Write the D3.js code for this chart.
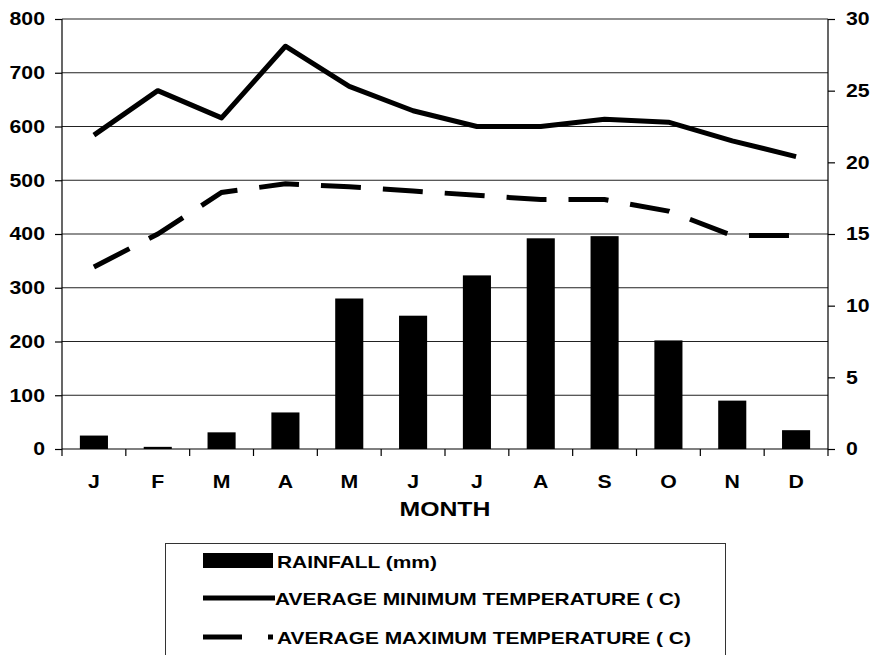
<!DOCTYPE html>
<html>
<head>
<meta charset="utf-8">
<script src="https://cdn.jsdelivr.net/npm/d3@7"></script>
<style>
  html, body { margin: 0; padding: 0; background: #fff; }
  svg { display: block; }
  text { font-family: "Liberation Sans", Arial, sans-serif; font-weight: bold; fill: #000; }
</style>
</head>
<body>
<svg id="chart" width="875" height="655"></svg>
<script>
// Monthly climate data
const months = ["J", "F", "M", "A", "M", "J", "J", "A", "S", "O", "N", "D"];
const rainfall = [25, 4, 31, 68, 280, 248, 323, 392, 396, 202, 90, 35];
const minTemp = [21.9, 25.0, 23.1, 28.1, 25.3, 23.6, 22.5, 22.5, 23.0, 22.8, 21.5, 20.4];
const maxTemp = [12.7, 15.0, 17.9, 18.5, 18.3, 18.0, 17.7, 17.4, 17.4, 16.6, 14.9, 14.9];
const rainTicks = [0, 100, 200, 300, 400, 500, 600, 700, 800];
const tempTicks = [0, 5, 10, 15, 20, 25, 30];
const legendLabels = ["RAINFALL (mm)", "AVERAGE MINIMUM TEMPERATURE ( C)", "AVERAGE MAXIMUM TEMPERATURE ( C)"];

const svg = d3.select("#chart");
const plotLeft = 62, plotRight = 828, plotTop = 19, plotBottom = 449;

const x = d3.scaleBand()
  .domain(d3.range(months.length))
  .range([plotLeft, plotRight])
  .paddingInner(0.56)
  .paddingOuter(0.28);
const step = x.step();
const cx = i => x(i) + x.bandwidth() / 2;

const yRain = d3.scaleLinear().domain([0, 800]).range([plotBottom, plotTop]);
const yTemp = d3.scaleLinear().domain([0, 30]).range([plotBottom, plotTop]);

// Horizontal gridlines
svg.append("g")
  .selectAll("line")
  .data(rainTicks.filter(d => d > 0))
  .join("line")
  .attr("x1", plotLeft).attr("x2", plotRight)
  .attr("y1", d => yRain(d)).attr("y2", d => yRain(d))
  .attr("stroke", "#222").attr("stroke-width", 1.2);

// Left axis
const leftAxis = svg.append("g")
  .attr("transform", `translate(${plotLeft},0)`)
  .call(d3.axisLeft(yRain).tickValues(rainTicks).tickSize(7).tickPadding(10).tickFormat(d3.format("d")));
leftAxis.select(".domain").attr("stroke", "#000").attr("stroke-width", 1.2).attr("d", `M0,${plotTop}V${plotBottom}`);
leftAxis.selectAll(".tick line").attr("stroke", "#000").attr("stroke-width", 1.2);
leftAxis.selectAll("text").attr("font-size", 18).attr("font-family", "Liberation Sans, Arial, sans-serif").attr("font-weight", "bold");

// Right axis
const rightAxis = svg.append("g")
  .attr("transform", `translate(${plotRight},0)`)
  .call(d3.axisRight(yTemp).tickValues(tempTicks).tickSize(7).tickPadding(11).tickFormat(d3.format("d")));
rightAxis.select(".domain").attr("stroke", "#000").attr("stroke-width", 1.2).attr("d", `M0,${plotTop}V${plotBottom}`);
rightAxis.selectAll(".tick line").attr("stroke", "#000").attr("stroke-width", 1.2);
rightAxis.selectAll("text").attr("font-size", 18).attr("font-family", "Liberation Sans, Arial, sans-serif").attr("font-weight", "bold");

// Bars
svg.append("g")
  .selectAll("rect")
  .data(rainfall)
  .join("rect")
  .attr("x", (d, i) => x(i))
  .attr("width", x.bandwidth())
  .attr("y", d => yRain(d))
  .attr("height", d => yRain(0) - yRain(d))
  .attr("fill", "#000");

// Bottom axis with category separators
const xLine = svg.append("g");
xLine.append("line")
  .attr("x1", plotLeft).attr("x2", plotRight)
  .attr("y1", plotBottom).attr("y2", plotBottom)
  .attr("stroke", "#000").attr("stroke-width", 1.2);
xLine.selectAll("line.sep")
  .data(d3.range(months.length + 1))
  .join("line")
  .attr("class", "sep")
  .attr("x1", i => plotLeft + i * step).attr("x2", i => plotLeft + i * step)
  .attr("y1", plotBottom).attr("y2", plotBottom + 7)
  .attr("stroke", "#000").attr("stroke-width", 1.2);
svg.append("g")
  .selectAll("text")
  .data(months)
  .join("text")
  .attr("x", (d, i) => cx(i))
  .attr("y", 488)
  .attr("text-anchor", "middle")
  .attr("font-size", 18)
  .text(d => d);

svg.append("text")
  .attr("x", (plotLeft + plotRight) / 2)
  .attr("y", 516)
  .attr("text-anchor", "middle")
  .attr("font-size", 21)
  .text("MONTH");

// Temperature lines
const line = d3.line().x((d, i) => cx(i));
svg.append("path")
  .datum(minTemp)
  .attr("d", line.y(d => yTemp(d)))
  .attr("fill", "none")
  .attr("stroke", "#000")
  .attr("stroke-width", 5)
  .attr("stroke-linejoin", "round");

svg.append("path")
  .datum(maxTemp)
  .attr("d", line.y(d => yTemp(d)))
  .attr("fill", "none")
  .attr("stroke", "#000")
  .attr("stroke-width", 5)
  .attr("stroke-dasharray", "40,22");

// Legend
const lg = svg.append("g");
lg.append("rect")
  .attr("x", 165.5).attr("y", 543.5)
  .attr("width", 560).attr("height", 130)
  .attr("fill", "none").attr("stroke", "#333").attr("stroke-width", 1);

lg.append("rect")
  .attr("x", 203).attr("y", 553).attr("width", 70).attr("height", 15)
  .attr("fill", "#000");
lg.append("line")
  .attr("x1", 203).attr("x2", 275).attr("y1", 598).attr("y2", 598)
  .attr("stroke", "#000").attr("stroke-width", 5);
lg.append("line")
  .attr("x1", 203).attr("x2", 273).attr("y1", 637).attr("y2", 637)
  .attr("stroke", "#000").attr("stroke-width", 5)
  .attr("stroke-dasharray", "39,26");

lg.selectAll("text.lab")
  .data(legendLabels)
  .join("text")
  .attr("class", "lab")
  .attr("x", (d, i) => [277, 275, 277][i])
  .attr("y", (d, i) => [568, 605, 644][i])
  .attr("font-size", 17)
  .text(d => d);

// Widen the lettering to the chart's broad bold face
svg.selectAll("text").each(function () {
  const w = this.getComputedTextLength();
  const k = this.classList.contains("lab") ? 1.23 : 1.18;
  d3.select(this).attr("textLength", w * k).attr("lengthAdjust", "spacingAndGlyphs");
});
</script>
</body>
</html>
